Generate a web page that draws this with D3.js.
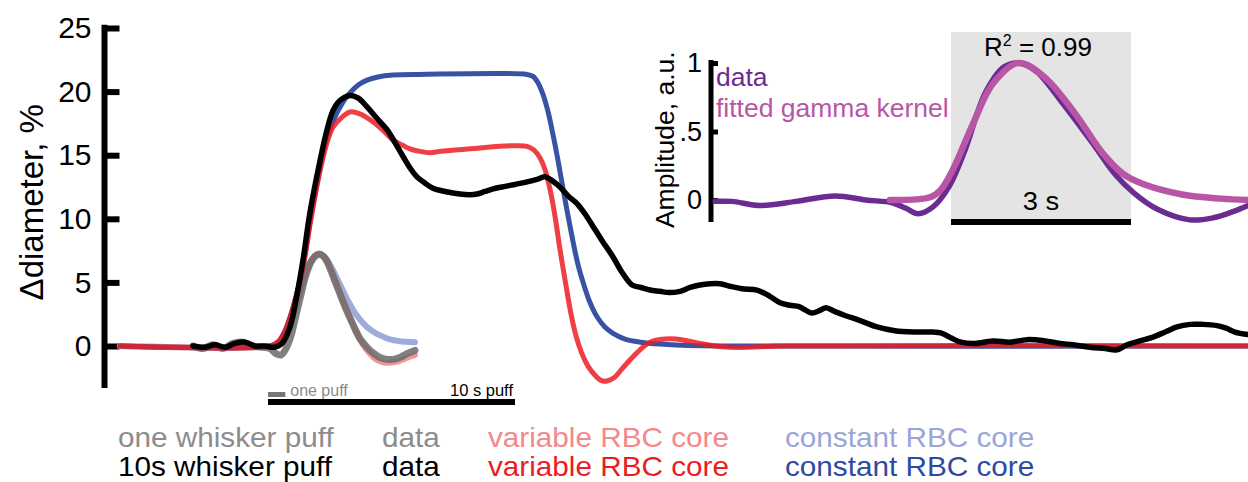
<!DOCTYPE html>
<html>
<head>
<meta charset="utf-8">
<script src="https://cdn.jsdelivr.net/npm/d3@7"></script>
<style>
  html, body { margin: 0; padding: 0; background: #fff; }
  svg { display: block; }
  text { font-family: "Liberation Sans", Arial, Helvetica, sans-serif; }
</style>
</head>
<body>
<svg id="chart" width="1248" height="482"></svg>
<script>
// ---------------------------------------------------------------
// Vessel diameter change (%) vs time (s) after whisker stimulation
// ---------------------------------------------------------------

// 10 s whisker puff: measured diameter change
const tenDataT = [-3.04,-2.55,-2.15,-1.74,-1.34,-0.93,-0.53,-0.12,0.28,0.57,0.89,1.17,1.42,1.70,2.11,2.39,2.63,2.91,3.32,3.64,4.01,4.41,4.82,5.14,5.47,5.75,6.03,6.36,6.68,7.17,7.77,8.18,8.46,8.79,9.11,9.60,10.00,10.49,10.89,11.21,11.50,11.82,12.15,12.51,12.83,13.16,13.52,13.97,14.33,14.74,15.10,15.47,15.87,16.23,16.68,17.09,17.49,17.89,18.30,18.70,19.19,19.80,20.32,20.73,21.13,21.50,21.78,22.02,22.35,22.59,22.96,23.36,23.97,24.66,25.38,26.19,26.80,27.29,27.69,28.06,28.62,29.35,30.04,30.73,31.46,32.06,32.59,33.28,33.89,34.37,34.78,35.30,35.83,36.32,36.80,37.33,37.85,38.42,38.79,39.15,39.68];
const tenDataV = [0.0,-0.1,0.1,-0.1,0.2,0.3,0.0,0.0,-0.1,0.2,1.5,4.0,6.8,10.5,14.6,17.0,18.5,19.3,19.7,19.5,18.8,17.9,17.0,16.0,14.9,14.0,13.3,12.8,12.4,12.15,11.95,11.9,11.95,12.15,12.35,12.55,12.7,12.9,13.1,13.3,13.0,12.5,11.8,11.2,10.4,9.4,8.3,7.0,5.8,4.8,4.6,4.4,4.3,4.2,4.3,4.6,4.8,4.9,4.9,4.7,4.5,4.4,3.9,3.4,3.2,3.1,2.8,2.6,2.8,3.0,2.7,2.4,2.0,1.5,1.2,1.1,1.1,1.0,0.6,0.3,0.2,0.4,0.3,0.5,0.4,0.2,0.1,-0.1,-0.2,-0.3,0.1,0.4,0.7,1.1,1.5,1.7,1.7,1.6,1.4,1.1,0.9];

// 10 s whisker puff: variable RBC core model
const tenVarT = [-6,0.08,0.40,0.69,1.01,1.42,1.74,2.11,2.39,2.63,3.00,3.32,3.64,3.97,4.33,4.74,5.06,5.43,5.75,6.15,6.56,6.96,7.57,8.18,8.79,9.39,10.00,10.49,10.77,11.01,11.21,11.42,11.62,11.82,12.06,12.27,12.47,12.71,12.96,13.24,13.48,13.72,14.01,14.33,14.70,15.06,15.38,15.71,16.07,16.52,17.00,17.49,18.10,18.70,19.51,20.73,39.68];
const tenVarV = [0,0,0.3,1.2,3.0,6.2,10.0,13.8,16.0,17.2,18.0,18.4,18.3,18.0,17.5,16.8,16.2,15.8,15.5,15.3,15.2,15.3,15.4,15.5,15.6,15.7,15.75,15.7,15.4,14.8,13.9,12.3,10.2,7.6,4.8,2.5,0.8,-0.6,-1.6,-2.3,-2.7,-2.75,-2.5,-1.8,-1.0,-0.3,0.2,0.45,0.55,0.55,0.4,0.2,0.0,-0.1,-0.1,0,0];

// 10 s whisker puff: constant RBC core model
const tenConstT = [-6,0.08,0.40,0.69,1.01,1.42,1.74,2.11,2.39,2.71,3.04,3.32,3.64,4.01,4.45,5.06,6.15,10.49,10.73,10.93,11.13,11.34,11.54,11.74,11.94,12.15,12.35,12.55,12.79,13.04,13.32,13.64,13.97,14.45,15.10,15.87,16.76,18.30,39.68];
const tenConstV = [0,0,0.3,1.2,3.0,6.3,10.2,14.0,16.4,18.0,19.2,19.9,20.5,20.9,21.15,21.3,21.35,21.35,21.2,20.7,19.8,18.4,16.6,14.6,12.4,10.2,8.2,6.4,4.8,3.4,2.3,1.5,1.0,0.55,0.3,0.15,0.05,0,0];

// one whisker puff: measured diameter change
const oneDataT = [-3.04,-2.63,-2.23,-1.82,-1.42,-1.01,-0.61,-0.20,0.08,0.32,0.53,0.73,0.93,1.13,1.34,1.54,1.74,1.94,2.11,2.31,2.51,2.71,2.91,3.16,3.44,3.72,4.01,4.29,4.53,4.82,5.06,5.34,5.63,5.95];
const oneDataV = [0,-0.2,0.1,-0.2,0.2,0.3,0.0,-0.1,-0.2,-0.6,-0.7,-0.2,0.8,2.4,4.1,5.6,6.6,7.1,7.2,6.9,6.1,5.1,4.1,2.9,1.7,0.6,-0.1,-0.6,-0.9,-1.05,-1.05,-0.9,-0.6,-0.35];

// one whisker puff: model time base and the two model responses
const oneModelT = [-6,0.16,0.40,0.65,0.89,1.13,1.38,1.62,1.86,2.06,2.27,2.51,2.75,3.00,3.28,3.56,3.85,4.13,4.41,4.70,4.98,5.26,5.59,5.95];
const oneVarV   = [0,0,0.2,0.8,1.8,3.2,4.8,6.2,7.0,7.25,7.0,6.2,5.0,3.8,2.4,1.1,0.1,-0.6,-1.1,-1.3,-1.3,-1.2,-0.95,-0.7];
const oneConstV = [0,0,0.2,0.8,1.8,3.2,4.8,6.2,7.0,7.25,7.05,6.4,5.5,4.5,3.4,2.5,1.8,1.3,0.95,0.7,0.5,0.4,0.33,0.3];

// inset: normalised one-puff response and fitted gamma kernel
const insetDataT = [-3.93,-3.65,-3.18,-2.58,-1.93,-1.42,-0.98,-0.75,-0.55,-0.30,-0.03,0.23,0.57,0.88,1.12,1.42,1.87,2.40,2.73,3.05,3.45,3.98,4.37,4.70,4.95];
const insetDataV = [-0.01,-0.01,-0.04,-0.01,0.03,0.0,-0.02,-0.06,-0.10,-0.05,0.10,0.36,0.78,0.97,1.0,0.94,0.70,0.39,0.19,0.05,-0.07,-0.145,-0.13,-0.085,-0.04];
const insetFitT = [-1.02,-0.35,-0.18,0.03,0.37,0.70,1.12,1.55,2.07,2.53,2.87,3.18,3.85,4.50,4.95];
const insetFitV = [0,0.02,0.07,0.22,0.56,0.85,1.0,0.9,0.63,0.34,0.19,0.12,0.04,0.01,0];

// axis ticks and labels
const yTicks = [0, 5, 10, 15, 20, 25];
const insetTicks = [0, 0.5, 1];
const insetTickLabels = ["0", ".5", "1"];
const legendGroups = ["one whisker puff", "10s whisker puff"];
const legendKinds = ["data", "variable RBC core", "constant RBC core"];

// ---------------------------------------------------------------
const svg = d3.select("#chart");
const FONT = '"Liberation Sans", Arial, Helvetica, sans-serif';

const x = d3.scaleLinear().domain([0, 10]).range([268, 515]);
const y = d3.scaleLinear().domain([0, 25]).range([346, 28]);

const zip = (ts, vs) => ts.map((t, i) => [t, vs[i]]);
const line = d3.line().x(d => x(d[0])).y(d => y(d[1])).curve(d3.curveCatmullRom.alpha(0.5));

// text helper with optional horizontal stretch
function label(g, str, px, py, opts) {
  const o = Object.assign({ size: 27, sx: 1.1, anchor: "start", fill: "#000" }, opts || {});
  return g.append("text")
    .attr("transform", `translate(${px},${py}) scale(${o.sx},1)`)
    .attr("text-anchor", o.anchor)
    .attr("font-size", o.size)
    .attr("fill", o.fill)
    .text(str);
}

// ---- main y axis
const yAxis = d3.axisLeft(y).tickValues(yTicks).tickSizeInner(-15).tickSizeOuter(0).tickPadding(13);
const ga = svg.append("g").attr("transform", "translate(104.5,0)").call(yAxis);
ga.select(".domain").remove();
ga.append("line").attr("x1", 0).attr("x2", 0)
  .attr("y1", y(25.25)).attr("y2", y(-3.3))
  .attr("stroke", "#000").attr("stroke-width", 6);
ga.selectAll(".tick line").attr("stroke", "#000").attr("stroke-width", 6);
ga.selectAll(".tick text").attr("font-size", 30).attr("font-family", FONT).attr("fill", "#000");

svg.append("text")
  .attr("transform", `translate(43,${y(11.3)}) rotate(-90)`)
  .attr("text-anchor", "middle")
  .attr("font-size", 33)
  .attr("fill", "#000")
  .text("\u0394diameter, %");

// ---- traces
const traces = svg.append("g").attr("fill", "none").attr("stroke-linecap", "round").attr("stroke-linejoin", "round");

traces.append("path").datum(zip(oneModelT, oneConstV)).attr("d", line)
  .attr("stroke", "#8e9dd5").attr("stroke-opacity", 0.85).attr("stroke-width", 6);
traces.append("path").datum(zip(oneModelT, oneVarV)).attr("d", line)
  .attr("stroke", "#f28a8c").attr("stroke-opacity", 0.9).attr("stroke-width", 6);
traces.append("path").datum(zip(oneDataT, oneDataV)).attr("d", line)
  .attr("stroke", "#6a6a6a").attr("stroke-opacity", 0.85).attr("stroke-width", 7);

traces.append("path").datum(zip(tenConstT, tenConstV)).attr("d", line)
  .attr("stroke", "#3953a4").attr("stroke-width", 5);
traces.append("path").datum(zip(tenVarT, tenVarV)).attr("d", line)
  .attr("stroke", "#ed1c24").attr("stroke-opacity", 0.85).attr("stroke-width", 5);
traces.append("path").datum(zip(tenDataT, tenDataV)).attr("d", line)
  .attr("stroke", "#000").attr("stroke-width", 5.5);

// ---- stimulus scale bars
svg.append("rect").attr("x", x(0)).attr("y", 392).attr("width", x(0.7) - x(0)).attr("height", 5).attr("fill", "#777");
svg.append("rect").attr("x", x(0)).attr("y", 399).attr("width", x(10) - x(0)).attr("height", 6).attr("fill", "#000");
label(svg, "one puff", x(0.9), 396, { size: 16, sx: 1, fill: "#8a8a8a" });
label(svg, "10 s puff", x(10) - 2, 396, { size: 16.5, sx: 1, anchor: "end" });

// ---- bottom legend
const groupColors = [["#8c8c8c", "#8c8c8c", "#f4888b", "#9aa6d6"], ["#000", "#000", "#ed1c24", "#2f4a9f"]];
const legendX = [118, 382, 488, 785];
legendGroups.forEach((gname, r) => {
  const by = 447 + r * 29;
  const items = [gname].concat(legendKinds);
  items.forEach((s, c) => label(svg, s, legendX[c], by, { fill: groupColors[r][c] }));
});

// ---- inset
const xi = d3.scaleLinear().domain([0, 3]).range([951, 1131]);
const yi = d3.scaleLinear().domain([0, 1]).range([200, 63]);
const iline = d3.line().x(d => xi(d[0])).y(d => yi(d[1])).curve(d3.curveCatmullRom.alpha(0.5));

const inset = svg.append("g");
inset.append("rect").attr("x", xi(0)).attr("y", 32).attr("width", xi(3) - xi(0)).attr("height", 190).attr("fill", "#e4e4e4");
inset.append("rect").attr("x", xi(0)).attr("y", 219).attr("width", xi(3) - xi(0)).attr("height", 6).attr("fill", "#000");
label(inset, "3 s", xi(1.5), 210, { size: 26, sx: 1.05, anchor: "middle" });

const rt = inset.append("text").attr("x", xi(1.45)).attr("y", 56).attr("text-anchor", "middle")
  .attr("font-size", 26).attr("fill", "#000");
rt.append("tspan").text("R");
rt.append("tspan").attr("font-size", 16).attr("dy", -10).text("2");
rt.append("tspan").attr("dy", 10).text(" = 0.99");

const iAxis = d3.axisLeft(yi).tickValues(insetTicks).tickFormat((d, i) => insetTickLabels[i])
  .tickSizeInner(-7).tickSizeOuter(0).tickPadding(9);
const gi = inset.append("g").attr("transform", "translate(711,0)").call(iAxis);
gi.select(".domain").remove();
gi.append("line").attr("x1", 0).attr("x2", 0).attr("y1", 60).attr("y2", 222)
  .attr("stroke", "#000").attr("stroke-width", 5);
gi.selectAll(".tick line").attr("stroke", "#000").attr("stroke-width", 5);
gi.selectAll(".tick text").attr("font-size", 27).attr("font-family", FONT).attr("fill", "#000");

inset.append("text")
  .attr("transform", `translate(674,${yi(0.44)}) rotate(-90)`)
  .attr("text-anchor", "middle").attr("font-size", 26.5).attr("fill", "#000")
  .text("Amplitude, a.u.");

inset.append("path").datum(zip(insetDataT, insetDataV)).attr("d", iline)
  .attr("fill", "none").attr("stroke", "#6a2c91").attr("stroke-width", 5.5).attr("stroke-linecap", "round");
inset.append("path").datum(zip(insetFitT, insetFitV)).attr("d", iline)
  .attr("fill", "none").attr("stroke", "#b955a5").attr("stroke-width", 6.5).attr("stroke-linecap", "round");

inset.append("text").attr("x", 716).attr("y", 86).attr("font-size", 26.5).attr("fill", "#6a2c91").text("data");
inset.append("text").attr("x", 716).attr("y", 117).attr("font-size", 26.5).attr("fill", "#b955a5").text("fitted gamma kernel");
</script>
</body>
</html>
